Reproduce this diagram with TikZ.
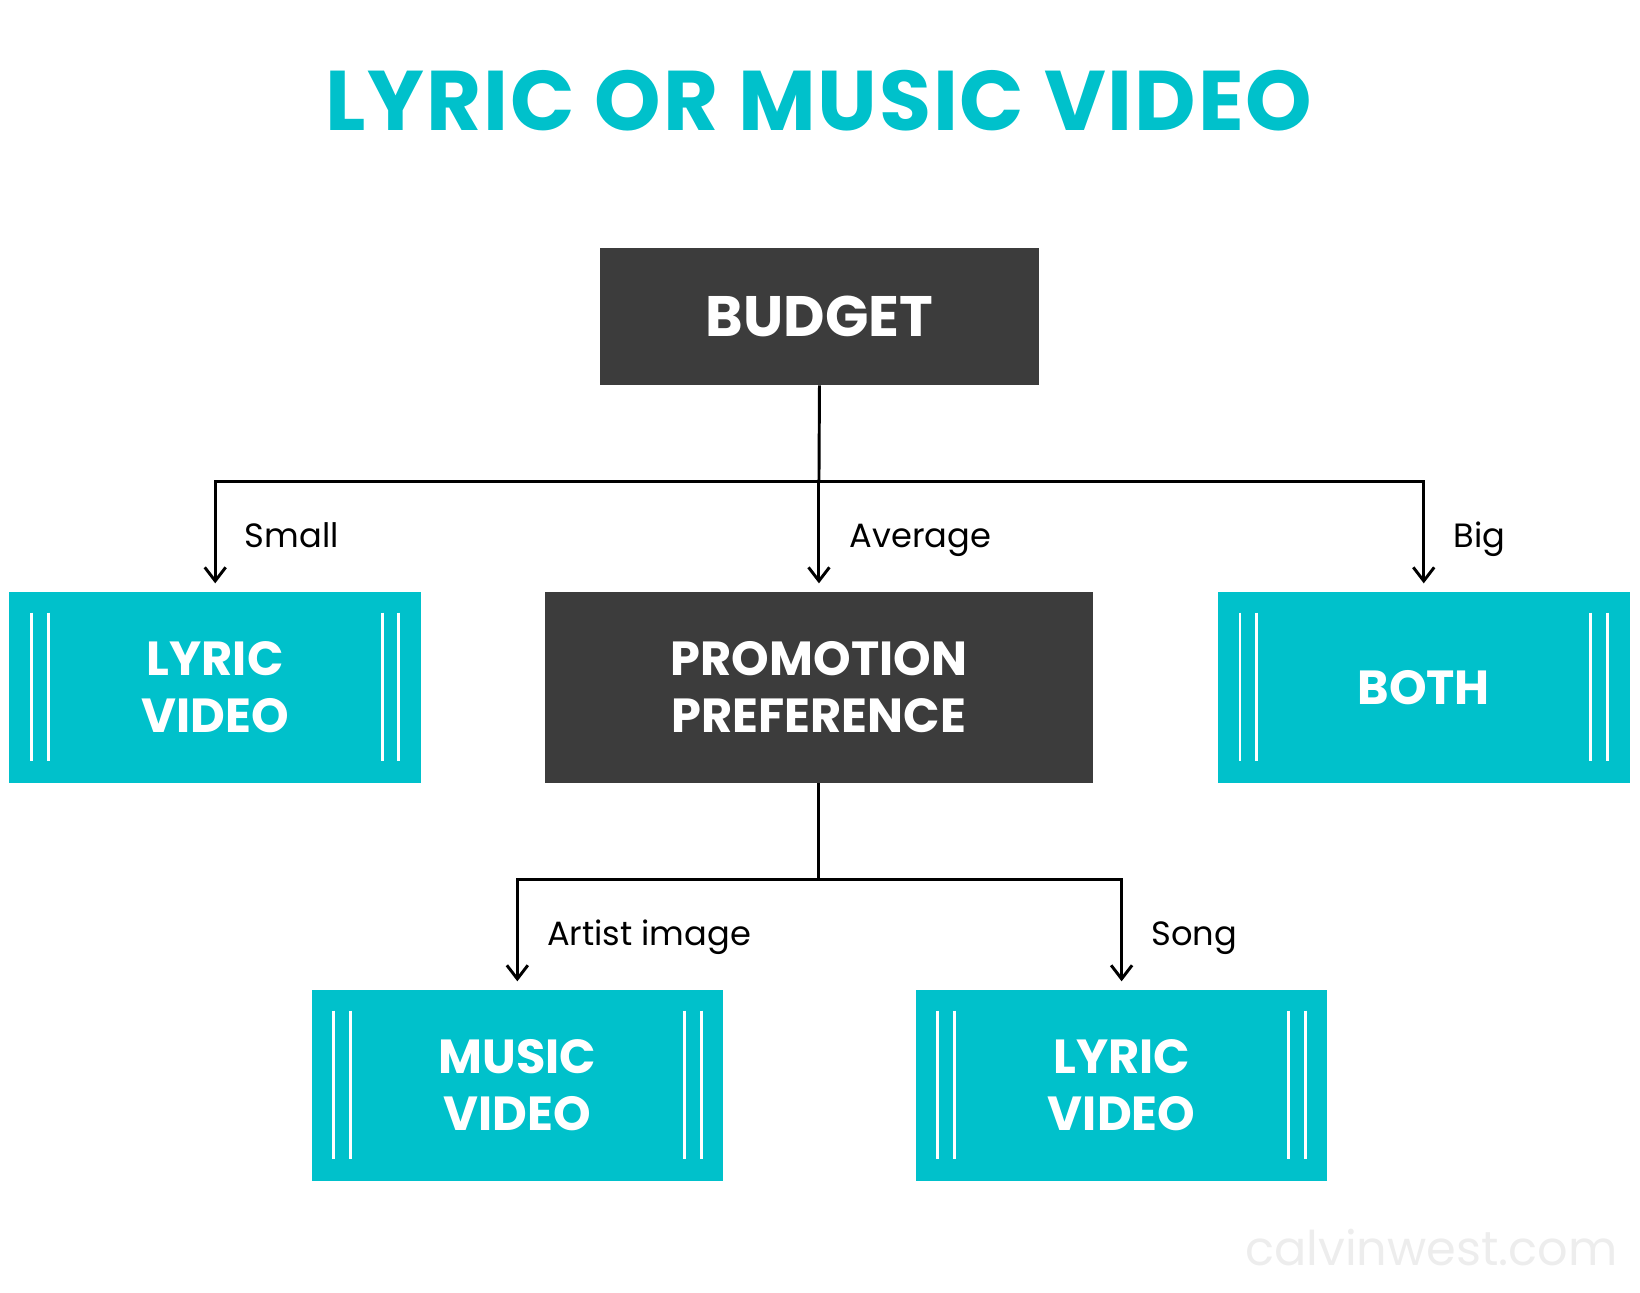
\documentclass[tikz,border=0pt]{standalone}
\usepackage{fontspec}
\setmainfont{Poppins}
\usetikzlibrary{arrows.meta,positioning}
\definecolor{lvteal}{HTML}{00C1CB}
\definecolor{lvdark}{HTML}{3C3C3C}
\tikzset{
    raw box/.style={rectangle, inner sep=0pt, outer sep=0pt, align=center, text=white,
        font=\fontsize{26}{31}\selectfont\bfseries},
    dark box/.style={raw box, fill=lvdark},
    teal box/.style={raw box, fill=lvteal, minimum width=7.86cm, minimum height=3.66cm,
        path picture={
            \foreach \dx in {0.42,0.74}{
                \draw[white, line width=1.6pt]
                    ([xshift=\dx cm, yshift=-0.4cm]path picture bounding box.north west) --
                    ([xshift=\dx cm, yshift=0.42cm]path picture bounding box.south west);
                \draw[white, line width=1.6pt]
                    ([xshift=-\dx cm, yshift=-0.4cm]path picture bounding box.north east) --
                    ([xshift=-\dx cm, yshift=0.42cm]path picture bounding box.south east);
            }}},
    branch/.style={draw, line width=1.6pt, shorten >=0.16cm},
    branch label/.style={inner sep=0pt, text height=0.72em, text depth=0pt, yshift=-0.08cm,
        font=\fontsize{18.3}{22}\selectfont}
}

\begin{document}
\begin{tikzpicture}[x=0.02cm, y=-0.02cm, >={Straight Barb[length=0.26cm, width=0.4cm]}]
    \useasboundingbox (0,0) rectangle (1566,1234.6);

    % title
    \node[anchor=base, text=lvteal, font=\fontsize{46}{50}\selectfont\bfseries\addfontfeatures{LetterSpace=2.2}] (title)
        at (782,125) {LYRIC OR MUSIC VIDEO};

    % first level
    \node[dark box, minimum width=8.38cm, minimum height=2.62cm, font=\fontsize{31}{36}\selectfont\bfseries]
        (budget) at (782.5,302.5) {BUDGET};
    \node[teal box] (lyricA) at (205.5,656.5) {LYRIC\\VIDEO};
    \node[dark box, minimum width=10.48cm, minimum height=3.66cm] (promo) at (782,656.5) {PROMOTION\\PREFERENCE};
    \node[teal box] (both) at (1359.5,656.5) {BOTH};

    % second level
    \node[teal box] (music) at (494,1036.5) {MUSIC\\VIDEO};
    \node[teal box] (lyricB) at (1071,1036.5) {LYRIC\\VIDEO};

    % budget split
    \coordinate (split) at (782,460);
    \draw[branch, shorten >=0pt] (budget.south) -- (split);
    \draw[branch, ->] (split) -| (lyricA.north) node[branch label, pos=0.75, right=0.54cm] {Small};
    \draw[branch, ->] (split) -- (promo.north) node[branch label, midway, right=0.56cm] {Average};
    \draw[branch, ->] (split) -| (both.north) node[branch label, pos=0.75, right=0.54cm] {Big};

    % preference split
    \coordinate (pref) at (782,840);
    \draw[branch, shorten >=0pt] (promo.south) -- (pref);
    \draw[branch, ->] (pref) -| (music.north) node[branch label, pos=0.75, right=0.54cm] {Artist image};
    \draw[branch, ->] (pref) -| (lyricB.north) node[branch label, pos=0.75, right=0.54cm] {Song};

    % watermark
    \node[anchor=base east, inner sep=0pt, text=black!7, font=\fontsize{26}{30}\selectfont] (mark)
        at (1545,1208) {calvinwest.com};
\end{tikzpicture}
\end{document}
